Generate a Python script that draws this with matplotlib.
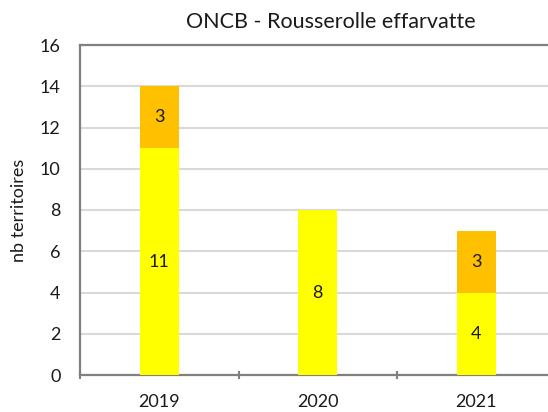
import matplotlib
matplotlib.use("Agg")
import matplotlib.pyplot as plt
from matplotlib.ticker import FixedLocator

# data
years = ["2019", "2020", "2021"]
bas = [11, 8, 4]       # yellow segment
haut = [3, 0, 3]       # orange segment

C_BAS = "#FFFF00"
C_HAUT = "#FFC000"
GRID = "#D9D9D9"
AXE = "#808080"
TXT = "#1A1A1A"

plt.rcParams["font.family"] = ["Lato", "DejaVu Sans"]

fig = plt.figure(figsize=(5.48, 4.12), dpi=100)
ax = fig.add_axes([80 / 548, 37 / 412, 475.5 / 548, 330 / 412])

x = list(range(len(years)))
b1 = ax.bar(x, bas, width=0.246, color=C_BAS, zorder=3)
b2 = ax.bar(x, haut, width=0.246, bottom=bas, color=C_HAUT, zorder=3)

for rect, v in zip(b1, bas):
    if v:
        ax.text(rect.get_x() + rect.get_width() / 2, rect.get_y() + v / 2, str(v),
                ha="center", va="center", fontsize=13, color=TXT, zorder=4)
for rect, v, b in zip(b2, haut, bas):
    if v:
        ax.text(rect.get_x() + rect.get_width() / 2, b + v / 2, str(v),
                ha="center", va="center", fontsize=13, color=TXT, zorder=4)

ax.set_xlim(-0.5, 2.5)
ax.set_ylim(0, 16)
ax.set_yticks(range(0, 17, 2))
ax.yaxis.grid(True, color=GRID, lw=1.5, zorder=0)
ax.set_axisbelow(True)

ax.set_xticks(x)
ax.set_xticklabels(years)
ax.xaxis.set_minor_locator(FixedLocator([-0.5, 0.5, 1.5, 2.5]))
ax.tick_params(axis="x", which="major", length=0, pad=14, labelsize=13, labelcolor=TXT)
ax.tick_params(axis="x", which="minor", length=6, width=1.5, color=AXE, direction="inout")
ax.tick_params(axis="y", length=0, pad=14, labelsize=13, labelcolor=TXT)

for s in ["left", "bottom", "top"]:
    ax.spines[s].set_color(AXE)
    ax.spines[s].set_linewidth(1.6)
ax.spines["right"].set_visible(False)

ax.set_ylabel("nb territoires", fontsize=13, color=TXT, labelpad=9)
fig.text(331 / 548, 1 - 22 / 412, "ONCB - Rousserolle effarvatte",
         ha="center", va="center", fontsize=15.5, color=TXT)

fig.savefig("out.png", dpi=100)
